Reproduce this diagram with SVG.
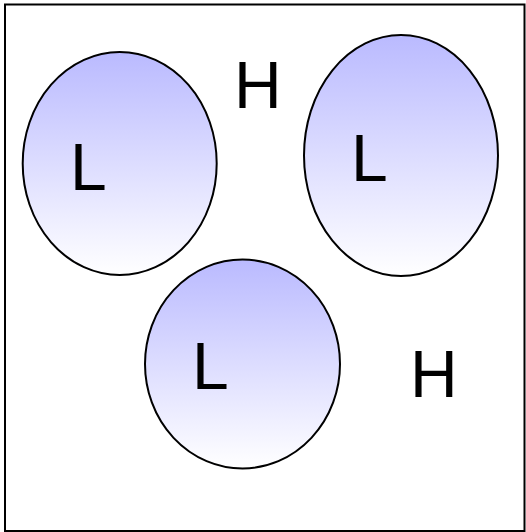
<svg xmlns="http://www.w3.org/2000/svg" width="526" height="532" viewBox="0 0 526 532">
<defs>
<linearGradient id="g" x1="0" y1="0" x2="0" y2="1">
<stop offset="0" stop-color="#babaff"/>
<stop offset="1" stop-color="#ffffff"/>
</linearGradient>
</defs>
<style>
.cell{fill:url(#g);stroke:#000;stroke-width:2}
.t{font-family:"Liberation Sans",Arial,sans-serif;font-size:66px;fill:#000}
</style>
<rect x="5" y="4.5" width="519.5" height="526.5" fill="#fff" stroke="#000" stroke-width="2"/>
<g id="low1">
<ellipse class="cell" cx="119.7" cy="163.5" rx="97" ry="111.5"/>
<text class="t" x="70" y="189.5">L</text>
</g>
<g id="low2">
<ellipse class="cell" cx="401" cy="155.5" rx="97" ry="120.5"/>
<text class="t" x="351" y="181">L</text>
</g>
<g id="low3">
<ellipse class="cell" cx="242.5" cy="364" rx="97.5" ry="104.5"/>
<text class="t" x="192" y="388.5">L</text>
</g>
<g id="high1">
<text class="t" x="234" y="108.3">H</text>
</g>
<g id="high2">
<text class="t" x="410" y="396.7">H</text>
</g>
<g id="connectors"></g>
</svg>
